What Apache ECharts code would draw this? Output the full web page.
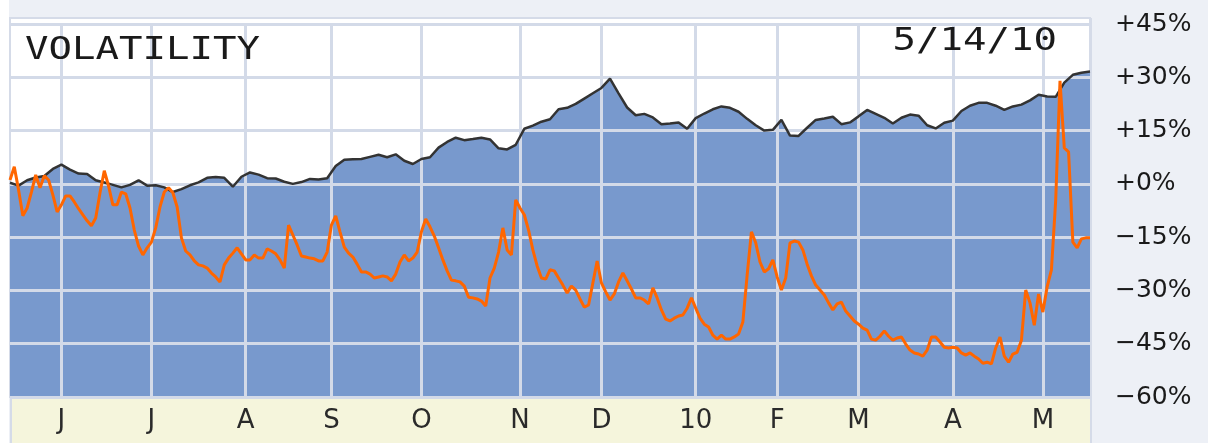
<!DOCTYPE html>
<html lang="en">
<head>
  <meta charset="UTF-8">
  <script src="https://cdn.jsdelivr.net/npm/echarts/dist/echarts.min.js"></script>
  <style>
    html, body { margin: 0; padding: 0; background: #edf0f6; }
    #chart { width: 1208px; height: 443px; }
  </style>
</head>
<body>
  <div id="chart"></div>
  <script>
    // trading-day index where each month starts (x axis runs 0..252, one year of sessions)
    const monthIdx = [12, 33, 55, 75, 96, 119, 138, 160, 179, 198, 220, 241];
    const monthLabels = ['J', 'J', 'A', 'S', 'O', 'N', 'D', '10', 'F', 'M', 'A', 'M'];
    const priceStep = 2; // price read every 2 sessions
    const volStep = 1;   // volatility read every session

    // price change, % (black line with blue fill)
    const priceVals = [
      0.3, -0.5, 1.0, 1.8, 2.2, 4.2, 5.4, 4.0, 2.9, 2.8,
      1.0, 0.4, -0.3, -1.0, -0.3, 1.0, -0.5, -0.4, -1.0, -2.3,
      -1.5, -0.4, 0.4, 1.7, 1.9, 1.7, -0.8, 2.0, 3.2, 2.6,
      1.6, 1.5, 0.6, 0.0, 0.5, 1.4, 1.2, 1.6, 5.0, 6.8,
      6.9, 7.0, 7.6, 8.2, 7.5, 8.3, 6.5, 5.6, 7.0, 7.5,
      10.2, 11.8, 13.0, 12.3, 12.6, 13.0, 12.5, 10.0, 9.7, 11.0,
      15.5, 16.4, 17.5, 18.2, 21.0, 21.4, 22.5, 24.0, 25.5, 27.0,
      29.6, 25.5, 21.5, 19.3, 19.7, 18.7, 16.8, 17.0, 17.3, 15.5,
      18.5, 19.8, 21.0, 21.8, 21.4, 20.3, 18.3, 16.5, 15.0, 15.2,
      18.0, 13.6, 13.5, 15.8, 18.0, 18.4, 18.9, 16.8, 17.3, 19.0,
      20.8, 19.7, 18.6, 17.0, 18.6, 19.5, 19.2, 16.5, 15.6, 17.2,
      17.8, 20.5, 22.0, 22.8, 22.8, 22.0, 20.8, 21.8, 22.3, 23.5,
      25.1, 24.6, 24.5, 28.5, 30.7, 31.3, 31.6
    ];

    // volatility change, % (orange line)
    const volVals = [
      1.1, 4.8, -1.7, -9.0, -6.8, -2.3, 2.5, -1.1, 2.3, 1.1,
      -3.1, -7.9, -5.9, -3.4, -3.4, -5.1, -7.0, -8.7, -10.4, -11.8,
      -9.6, -2.5, 3.7, -0.6, -5.9, -5.9, -2.3, -2.8, -6.8, -13.0,
      -17.5, -20.0, -18.0, -16.4, -12.4, -6.5, -2.3, -1.1, -2.5, -6.5,
      -15.2, -18.9, -20.0, -21.7, -22.8, -23.1, -23.7, -25.1, -26.2, -27.6,
      -22.8, -20.9, -19.5, -18.0, -19.7, -21.4, -21.4, -20.0, -20.9, -20.9,
      -18.3, -18.9, -19.7, -21.4, -23.7, -11.6, -14.4, -17.2, -20.3, -20.6,
      -20.9, -21.1, -21.7, -21.7, -19.2, -11.6, -9.0, -13.5, -17.8, -19.5,
      -20.6, -22.6, -24.8, -24.8, -25.4, -26.5, -26.2, -25.9, -26.2, -27.3,
      -25.4, -22.0, -20.0, -21.7, -20.9, -19.2, -13.5, -9.9, -12.1, -14.7,
      -18.0, -21.4, -24.5, -27.1, -27.3, -27.6, -28.8, -31.9, -32.1, -32.4,
      -33.0, -34.4, -26.5, -23.7, -19.2, -12.4, -18.6, -20.0, -4.5, -6.8,
      -8.7, -13.0, -18.6, -23.1, -26.5, -26.8, -24.2, -24.5, -26.5, -28.5,
      -30.7, -28.8, -29.9, -32.4, -34.7, -34.1, -27.9, -21.7, -27.9, -30.4,
      -32.7, -31.0, -27.6, -25.1, -27.3, -29.6, -32.1, -32.1, -32.7, -33.8,
      -29.3, -32.1, -35.5, -38.1, -38.6, -37.8, -37.2, -36.9, -35.0, -32.1,
      -35.0, -37.8, -39.5, -40.3, -42.6, -43.7, -42.6, -43.7, -43.7, -43.1,
      -42.3, -38.9, -25.7, -13.5, -16.6, -22.0, -24.8, -23.9, -21.4, -26.2,
      -29.9, -26.5, -16.6, -16.1, -16.4, -18.6, -22.6, -25.9, -28.5, -29.9,
      -31.3, -33.5, -35.5, -33.8, -33.3, -35.8, -37.2, -38.6, -39.5, -40.6,
      -41.2, -43.7, -44.0, -42.9, -41.4, -42.9, -44.0, -43.4, -43.1, -45.1,
      -46.8, -47.6, -47.9, -48.5, -46.8, -43.1, -43.1, -44.5, -46.0, -46.2,
      -46.0, -46.2, -47.6, -48.2, -47.6, -48.5, -49.3, -50.5, -50.2, -50.7,
      -46.2, -43.1, -48.5, -50.2, -47.9, -47.4, -44.0, -29.9, -33.5, -39.8,
      -31.0, -36.1, -29.0, -24.2, -4.5, 29.0, 10.1, 9.0, -16.4, -18.0,
      -15.5, -15.2, -15.2
    ];

    const toPairs = (vals, step) => vals.map((v, k) => [k * step, v]);
    const priceData = toPairs(priceVals, priceStep);
    const volData = toPairs(volVals, volStep);
    const lastIdx = (priceVals.length - 1) * priceStep;

    const pctLabel = v => (v > 0 ? '+' + v : v < 0 ? '\u2212' + Math.abs(v) : '+0') + '%';

    const chart = echarts.init(document.getElementById('chart'));
    const option = {
      backgroundColor: '#edf0f6',
      animation: false,
      grid: {
        left: 10, right: 118, top: 24, bottom: 46,
        show: true, backgroundColor: '#ffffff',
        borderColor: '#d5dbe8', borderWidth: 2
      },
      graphic: [
        { type: 'rect', z: -5, shape: { x: 0, y: 0, width: 9, height: 443 }, style: { fill: '#ffffff' } },
        { type: 'rect', z: -5, shape: { x: 10, y: 18, width: 1080, height: 8 },
          style: { fill: '#ffffff', stroke: '#d5dbe8', lineWidth: 2 } },
        { type: 'rect', z: -5, shape: { x: 11, y: 398, width: 1080, height: 46 },
          style: { fill: '#f5f5dc', stroke: '#d5dbe8', lineWidth: 2 } },
        { type: 'line', z: -5, shape: { x1: 1091, y1: 18, x2: 1091, y2: 443 },
          style: { stroke: '#d5dbe8', lineWidth: 2 } },
        { type: 'text', z: 10, x: 25, y: 51, scaleX: 1.22,
          style: { text: 'VOLATILITY', font: '32px "DejaVu Sans Mono"', fill: '#1a1a1a',
                   textAlign: 'left', textVerticalAlign: 'middle' } },
        { type: 'text', z: 10, x: 1057, y: 42, scaleX: 1.22,
          style: { text: '5/14/10', font: '32px "DejaVu Sans Mono"', fill: '#1a1a1a',
                   textAlign: 'right', textVerticalAlign: 'middle' } }
      ],
      xAxis: {
        type: 'value', min: 0, max: lastIdx, z: 2,
        axisLine: { show: false },
        axisTick: { show: false, customValues: monthIdx },
        axisLabel: {
          customValues: monthIdx,
          formatter: v => monthLabels[monthIdx.indexOf(v)],
          margin: 11, color: '#2a2a2a', fontSize: 26, fontFamily: 'DejaVu Sans'
        },
        splitLine: { show: true, lineStyle: { color: '#d3dae8', width: 3 } }
      },
      yAxis: {
        type: 'value', position: 'right', min: -60, max: 45, interval: 15, z: 2,
        axisLine: { show: false },
        axisTick: { show: false },
        axisLabel: {
          formatter: pctLabel, margin: 25, color: '#1a1a1a',
          fontSize: 25, fontFamily: 'DejaVu Sans'
        },
        splitLine: { show: true, lineStyle: { color: '#d3dae8', width: 3 } }
      },
      series: [
        {
          name: 'price area', type: 'line', data: priceData, z: 1,
          showSymbol: false, silent: true,
          lineStyle: { width: 0 },
          areaStyle: { color: '#7899cd', opacity: 1, origin: 'start' }
        },
        {
          name: 'price', type: 'line', data: priceData, z: 3,
          showSymbol: false,
          lineStyle: { color: '#333333', width: 2.5 }
        },
        {
          name: 'volatility', type: 'line', data: volData, z: 4,
          showSymbol: false,
          lineStyle: { color: '#ff6600', width: 3 }
        }
      ]
    };
    chart.setOption(option);
  </script>
</body>
</html>
